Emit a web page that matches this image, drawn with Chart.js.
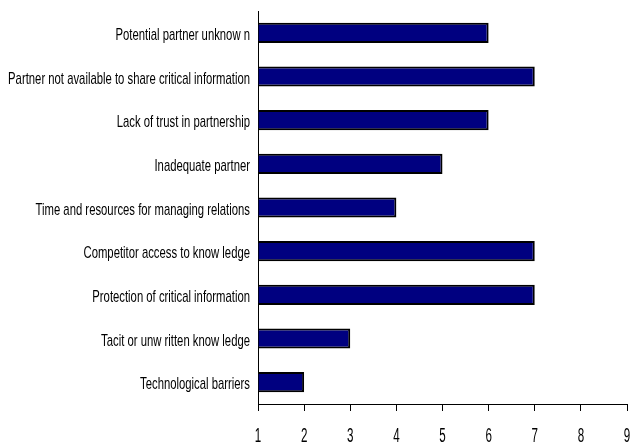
<!DOCTYPE html>
<html>
<head>
<meta charset="utf-8">
<script src="https://cdn.jsdelivr.net/npm/chart.js@4"></script>
<style>
  body { margin: 0; background: #fff; }
  #wrap { width: 632px; height: 445px; position: relative; }
</style>
</head>
<body>
<div id="wrap"><canvas id="myChart"></canvas></div>
<script>
var categories = [
    "Potential partner unknow n",
    "Partner not available to share critical information",
    "Lack of trust in partnership",
    "Inadequate partner",
    "Time and resources for managing relations",
    "Competitor access to know ledge",
    "Protection of critical information",
    "Tacit or unw ritten know ledge",
    "Technological barriers"
];
var scores = [6, 7, 6, 5, 4, 7, 7, 3, 2];
var tickValues = [1, 2, 3, 4, 5, 6, 7, 8, 9];

// the original uses a tall, condensed Arial; squeeze Liberation Sans to look like it
var squeezedLabels = {
    id: 'squeezedLabels',
    afterDraw: function(chart) {
        var ctx = chart.ctx;
        var xs = chart.scales.x, ys = chart.scales.y;
        ctx.save();
        ctx.fillStyle = "#000";
        ctx.font = "17px 'Liberation Sans', Arial, sans-serif";
        ctx.textAlign = 'right';
        ctx.textBaseline = 'alphabetic';
        categories.forEach(function(label, i) {
            var y = ys.getPixelForTick(i);
            ctx.save();
            ctx.translate(ys.right - 8, y + 7);
            ctx.scale(0.665, 1);
            ctx.fillText(label, 0, 0);
            ctx.restore();
        });
        ctx.font = "20px 'Liberation Sans', Arial, sans-serif";
        ctx.textAlign = 'center';
        tickValues.forEach(function(v) {
            var x = xs.getPixelForValue(v);
            ctx.save();
            ctx.translate(x, xs.bottom - 3);
            ctx.scale(0.58, 1);
            ctx.fillText(String(v), 0, 0);
            ctx.restore();
        });
        ctx.restore();
    }
};

window.onload = function() {
    new Chart(document.getElementById("myChart").getContext('2d'), {
        type: 'bar',
        data: {
            labels: categories,
            datasets: [{
                data: scores,
                base: tickValues[0],
                backgroundColor: "#000080",
                borderColor: "#000000",
                borderWidth: 2,
                borderSkipped: 'start',
                barPercentage: 0.46,
                categoryPercentage: 1
            }]
        },
        options: {
            indexAxis: 'y',
            responsive: true,
            maintainAspectRatio: false,
            animation: false,
            layout: { padding: { top: 11, right: 5, left: 0, bottom: 0 } },
            plugins: {
                legend: { display: false },
                tooltip: { enabled: false }
            },
            scales: {
                x: {
                    min: tickValues[0],
                    max: tickValues[tickValues.length - 1],
                    afterBuildTicks: function(scale) {
                        scale.ticks = tickValues.map(function(v) { return { value: v }; });
                    },
                    afterFit: function(scale) { scale.height = 41; },
                    grid: { drawOnChartArea: false, drawTicks: true, tickLength: 7, color: "#000" },
                    border: { display: true, color: "#000", width: 1 },
                    ticks: { display: false }
                },
                y: {
                    afterFit: function(scale) { scale.width = 258; },
                    grid: { drawOnChartArea: false, drawTicks: false },
                    border: { display: true, color: "#000", width: 1 },
                    ticks: { display: false }
                }
            }
        },
        plugins: [squeezedLabels]
    });
};
</script>
</body>
</html>
